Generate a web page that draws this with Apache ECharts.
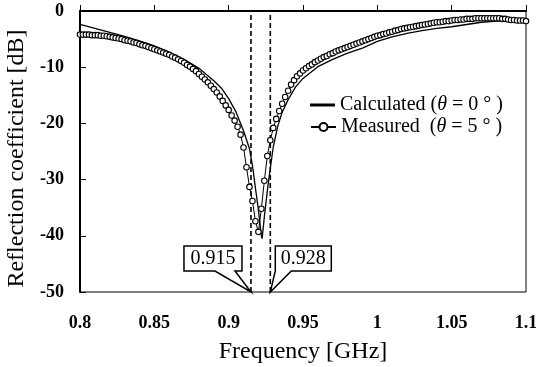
<!DOCTYPE html>
<html>
<head>
<meta charset="utf-8">
<script src="https://cdn.jsdelivr.net/npm/echarts@6/dist/echarts.min.js"></script>
<style>
  html, body { margin: 0; padding: 0; background: #fff; }
  #main { width: 536px; height: 367px; }
</style>
</head>
<body>
<div id="main"></div>
<script>
// calculated curve (theta = 0 deg)
var calcFreq = [0.80, 0.81, 0.82, 0.83, 0.84, 0.85, 0.86, 0.87, 0.88, 0.89, 0.895, 0.90, 0.905, 0.91,
  0.914, 0.916, 0.918, 0.920, 0.922, 0.9225, 0.924, 0.926, 0.928, 0.930, 0.933, 0.936, 0.94, 0.945,
  0.95, 0.96, 0.97, 0.98, 0.99, 1.00, 1.01, 1.02, 1.03, 1.04, 1.05, 1.06, 1.07, 1.08, 1.09, 1.10];
var calcDb = [-2.4, -3.1, -3.8, -4.5, -5.3, -6.2, -7.3, -8.6, -10.2, -12.4, -13.7, -15.6, -18.0, -21.3,
  -24.5, -27.5, -31.5, -35.4, -40.0, -40.5, -36.6, -32.0, -28.0, -24.2, -20.5, -18.0, -15.8, -13.5,
  -12.0, -9.9, -8.6, -7.5, -6.6, -5.4, -4.6, -4.0, -3.5, -3.1, -2.8, -2.4, -2.0, -1.8, -1.7, -1.7];

// measured curve (theta = 5 deg), sampled every 2 MHz from 0.8 GHz
var measStart = 0.8;
var measStep = 0.002;
var measDb = [
  -4.2, -4.2, -4.2, -4.2, -4.3, -4.3, -4.3, -4.4, -4.4, -4.5,
  -4.6, -4.7, -4.8, -4.9, -5.0, -5.2, -5.3, -5.4, -5.6, -5.7,
  -5.9, -6.1, -6.2, -6.4, -6.6, -6.8, -7.0, -7.2, -7.4, -7.6,
  -7.8, -8.1, -8.3, -8.6, -8.9, -9.2, -9.6, -9.9, -10.3, -10.7,
  -11.2, -11.7, -12.2, -12.7, -13.3, -13.9, -14.5, -15.2, -16.0, -16.8,
  -17.6, -18.6, -19.5, -20.6, -22.0, -24.3, -27.8, -31.3, -33.8, -37.4,
  -39.3, -35.2, -30.2, -25.8, -23.0, -20.8, -19.2, -17.8, -16.5, -15.3,
  -14.2, -13.1, -12.3, -11.6, -11.1, -10.6, -10.2, -9.8, -9.5, -9.1,
  -8.8, -8.5, -8.2, -8.0, -7.7, -7.5, -7.2, -7.0, -6.8, -6.6,
  -6.4, -6.2, -6.0, -5.8, -5.6, -5.4, -5.2, -5.0, -4.8, -4.6,
  -4.4, -4.3, -4.1, -4.0, -3.8, -3.7, -3.5, -3.4, -3.2, -3.1,
  -3.0, -2.9, -2.8, -2.7, -2.6, -2.5, -2.4, -2.3, -2.2, -2.1,
  -2.0, -2.0, -1.9, -1.8, -1.8, -1.7, -1.6, -1.6, -1.5, -1.5,
  -1.4, -1.4, -1.4, -1.3, -1.3, -1.3, -1.3, -1.3, -1.3, -1.3,
  -1.3, -1.3, -1.4, -1.4, -1.5, -1.6, -1.6, -1.7, -1.7, -1.7,
  -1.8
];

// marked band edges
var markFreq = [0.915, 0.928];
var markText = ['0.915', '0.928'];

var serif = '"Liberation Serif", "Times New Roman", serif';

var calcData = calcFreq.map(function (f, i) { return [f, calcDb[i]]; });
var measData = measDb.map(function (v, i) {
  return [+(measStart + i * measStep).toFixed(3), v];
});

var legendText = {
  fontFamily: serif, fontSize: 20, color: '#000',
  rich: { i: { fontFamily: serif, fontSize: 20, fontStyle: 'italic', color: '#000' } }
};

// dashed verticals at the band edges, full height of the y axis
var markSeries = markFreq.map(function (f) {
  return {
    name: 'mark' + f,
    type: 'line',
    data: [[f, -50], [f, 0]],
    symbol: 'none',
    silent: true,
    lineStyle: { color: '#000', width: 1.6, type: [5, 3] },
    z: 2
  };
});

var chart = echarts.init(document.getElementById('main'));

var option = {
  animation: false,
  backgroundColor: '#fff',
  grid: {
    left: 80, right: 10, top: 11, bottom: 75,
    outerBoundsMode: 'none',
    show: true, borderColor: '#000', borderWidth: 1
  },
  legend: [
    {
      left: 305, top: 90,
      icon: 'rect',
      itemWidth: 25, itemHeight: 3,
      textStyle: legendText,
      formatter: 'Calculated ({i|θ} = 0 ° )',
      data: ['calc']
    },
    {
      left: 305, top: 112,
      itemWidth: 25, itemHeight: 10,
      textStyle: legendText,
      formatter: 'Measured  ({i|θ} = 5 ° )',
      data: ['meas']
    }
  ],
  xAxis: {
    type: 'value',
    min: 0.8, max: 1.1, interval: 0.05,
    name: 'Frequency [GHz]',
    nameLocation: 'middle', nameGap: 48,
    nameTextStyle: { fontFamily: serif, fontSize: 24, color: '#000' },
    axisLine: { lineStyle: { color: '#000', width: 2 } },
    axisTick: { inside: true, length: 6, lineStyle: { color: '#000', width: 1 } },
    axisLabel: { fontFamily: serif, fontSize: 18, fontWeight: 'bold', color: '#000', margin: 22 },
    splitLine: { show: false }
  },
  yAxis: {
    type: 'value',
    min: -50, max: 0, interval: 10,
    name: 'Reflection coefficient [dB]',
    nameLocation: 'middle', nameGap: 47,
    nameTextStyle: { fontFamily: serif, fontSize: 24, color: '#000', padding: [0, 14, 0, 0] },
    axisLine: { lineStyle: { color: '#000', width: 2 } },
    axisTick: { inside: true, length: 6, lineStyle: { color: '#000', width: 1 } },
    axisLabel: { fontFamily: serif, fontSize: 18, fontWeight: 'bold', color: '#000', margin: 16 },
    splitLine: { show: false }
  },
  series: [
    {
      name: 'calc',
      type: 'line',
      data: calcData,
      showSymbol: false,
      symbol: 'none',
      lineStyle: { color: '#000', width: 1.3 },
      itemStyle: { color: '#000' },
      z: 3
    },
    {
      name: 'meas',
      type: 'line',
      data: measData,
      symbol: 'circle',
      symbolSize: 5.5,
      lineStyle: { color: '#000', width: 1 },
      itemStyle: { color: '#fff', borderColor: '#000', borderWidth: 1.1 },
      z: 4
    }
  ].concat(markSeries)
};

chart.setOption(option);

// callout boxes pointing at the band edges on the x axis
var elements = [];
markFreq.forEach(function (f, k) {
  var p = chart.convertToPixel({ gridIndex: 0 }, [f, -50]);
  var x = p[0], y = p[1];
  var pts, tx;
  if (k === 0) {
    pts = [[x - 67, y - 46], [x - 9, y - 46], [x - 9, y - 21], [x - 16, y - 21], [x, y],
           [x - 36, y - 21], [x - 67, y - 21]];
    tx = x - 38;
  } else {
    pts = [[x + 5, y - 46], [x + 61, y - 46], [x + 61, y - 21], [x + 21, y - 21], [x, y],
           [x + 5, y - 21]];
    tx = x + 33;
  }
  elements.push({
    type: 'polygon',
    shape: { points: pts },
    style: { fill: '#fff', stroke: '#000', lineWidth: 1.5 },
    z: 1
  });
  elements.push({
    type: 'text',
    x: tx, y: y - 33.5,
    style: {
      text: markText[k], fontFamily: serif, fontSize: 20, fill: '#000',
      align: 'center', verticalAlign: 'middle'
    },
    z: 2
  });
});
chart.setOption({ graphic: { elements: elements } });
</script>
</body>
</html>
